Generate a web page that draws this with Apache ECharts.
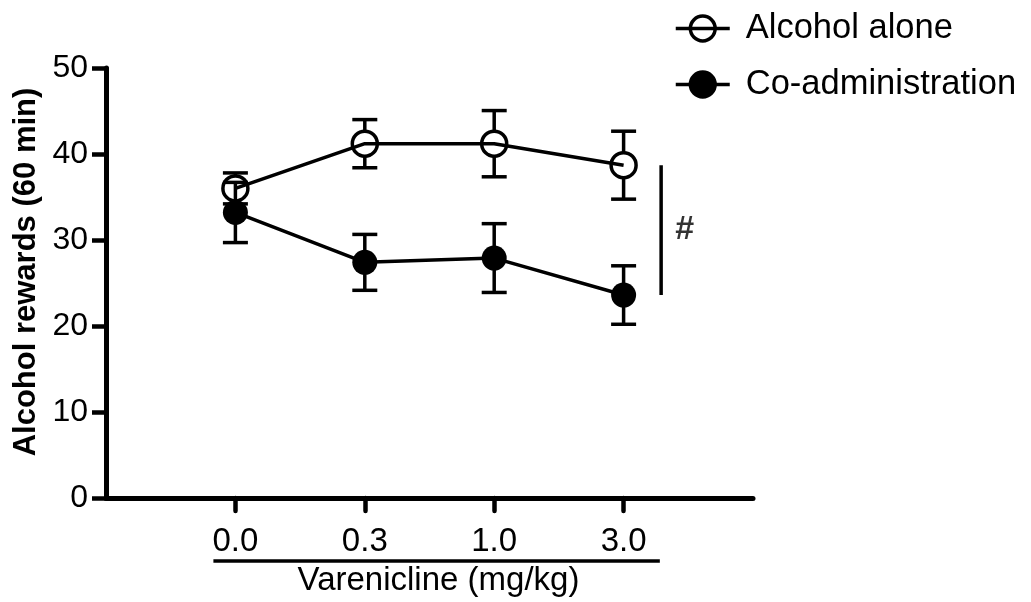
<!DOCTYPE html>
<html>
<head>
<meta charset="utf-8">
<script src="https://cdn.jsdelivr.net/npm/echarts@6/dist/echarts.min.js"></script>
<style>
html,body{margin:0;padding:0;background:#fff;}
#chart{width:1031px;height:602px;}
</style>
</head>
<body>
<div id="chart"></div>
<script>
// ---- data ----
const doses = ['0.0', '0.3', '1.0', '3.0'];
const alcoholAlone = [36.0, 41.2, 41.2, 38.7];
const alcoholAloneSem = [1.8, 2.8, 3.85, 3.95];
const coAdministration = [33.2, 27.4, 27.9, 23.6];
const coAdministrationSem = [3.5, 3.25, 4.0, 3.4];
const yTicks = [0, 10, 20, 30, 40, 50];
const seriesNames = ['Alcohol alone', 'Co-administration'];
const xAxisTitle = 'Varenicline (mg/kg)';
const yAxisTitle = 'Alcohol rewards (60 min)';
const sigLabel = '#';

const FONT = '"Liberation Sans", Arial, Helvetica, sans-serif';
const LW = 3.5;
const SYM = 25;

const toPts = arr => arr.map((v, i) => [i, v]);
const errPts = (m, s) => m.map((v, i) => [i, v, s[i]]);

function errRender(gap) {
  return function (params, api) {
    const x = api.value(0), m = api.value(1), s = api.value(2);
    const c = api.coord([x, m]);
    const top = api.coord([x, m + s]);
    const bot = api.coord([x, m - s]);
    const hw = 12.5;
    const st = { stroke: '#000', lineWidth: LW };
    return {
      type: 'group',
      children: [
        { type: 'line', shape: { x1: c[0], y1: c[1] - gap, x2: top[0], y2: top[1] }, style: st },
        { type: 'line', shape: { x1: c[0], y1: c[1] + gap, x2: bot[0], y2: bot[1] }, style: st },
        { type: 'line', shape: { x1: top[0] - hw, y1: top[1], x2: top[0] + hw, y2: top[1] }, style: st },
        { type: 'line', shape: { x1: bot[0] - hw, y1: bot[1], x2: bot[0] + hw, y2: bot[1] }, style: st }
      ]
    };
  };
}

const bracketX = 3.29;
const last = doses.length - 1;

const chart = echarts.init(document.getElementById('chart'), null, { renderer: 'canvas' });

const option = {
  animation: false,
  backgroundColor: '#fff',
  textStyle: { fontFamily: FONT, color: '#000' },
  grid: { left: 106, right: 278, top: 68, bottom: 104, containLabel: false },
  legend: {
    orient: 'vertical',
    left: 669,
    top: 6,
    itemWidth: 54,
    itemHeight: 31,
    itemGap: 21,
    data: seriesNames,
    textStyle: { fontFamily: FONT, fontSize: 34.5, color: '#000', padding: [0, 0, 0, 11] },
    lineStyle: { width: 3.5, color: '#000' },
    itemStyle: { borderWidth: 3.5, borderColor: '#000' }
  },
  xAxis: {
    type: 'value',
    min: -1, max: 4, interval: 1,
    splitLine: { show: false },
    axisLine: { show: true, onZero: false, lineStyle: { color: '#000', width: 5 } },
    axisTick: { show: true, length: 13, lineStyle: { color: '#000', width: 4.5, cap: 'round' }, customValues: [0, 1, 2, 3] },
    axisLabel: {
      customValues: [0, 1, 2, 3],
      formatter: v => doses[Math.round(v)] || '',
      fontFamily: FONT, fontSize: 33, color: '#000', margin: 27
    },
    name: xAxisTitle,
    nameLocation: 'middle',
    nameGap: 66,
    nameTextStyle: { fontFamily: FONT, fontSize: 33, color: '#000', padding: [0, 0, 0, 18] }
  },
  yAxis: {
    type: 'value',
    min: 0, max: 50, interval: 10,
    splitLine: { show: false },
    axisLine: { show: true, onZero: false, lineStyle: { color: '#000', width: 5 } },
    axisTick: { show: true, length: 14, lineStyle: { color: '#000', width: 4.5 } },
    axisLabel: {
      formatter: v => (yTicks.indexOf(v) >= 0 ? String(v) : ''),
      fontFamily: FONT, fontSize: 32, color: '#000', margin: 18
    },
    name: yAxisTitle,
    nameLocation: 'middle',
    nameGap: 64,
    nameRotate: 90,
    nameTextStyle: { fontFamily: FONT, fontSize: 31, fontWeight: 'bold', color: '#000', padding: [0, 0, 0, 22] }
  },
  series: [
    {
      name: seriesNames[0],
      type: 'line',
      data: toPts(alcoholAlone),
      symbol: 'circle',
      symbolSize: SYM,
      z: 3,
      lineStyle: { color: '#000', width: LW },
      itemStyle: { color: 'rgba(0,0,0,0)', borderColor: '#000', borderWidth: LW }
    },
    {
      name: seriesNames[1],
      type: 'line',
      data: toPts(coAdministration),
      symbol: 'circle',
      symbolSize: SYM,
      z: 3,
      lineStyle: { color: '#000', width: LW },
      itemStyle: { color: '#000', borderColor: '#000', borderWidth: 0 }
    },
    {
      type: 'custom',
      name: 'err1',
      data: errPts(alcoholAlone, alcoholAloneSem),
      renderItem: errRender(SYM / 2),
      z: 2,
      silent: true
    },
    {
      type: 'custom',
      name: 'err2',
      data: errPts(coAdministration, coAdministrationSem),
      renderItem: errRender(0),
      z: 2,
      silent: true
    },
    {
      type: 'line',
      name: 'bracket',
      data: [[bracketX, alcoholAlone[last]], [bracketX, coAdministration[last]]],
      symbol: 'none',
      lineStyle: { color: '#000', width: 3.5 },
      silent: true
    },
    {
      type: 'scatter',
      name: 'sig',
      data: [[bracketX, (alcoholAlone[last] + coAdministration[last]) / 2]],
      symbolSize: 0,
      silent: true,
      label: {
        show: true, position: 'right', distance: 14,
        formatter: sigLabel, fontFamily: FONT, fontSize: 34, fontWeight: 'bold', color: '#000'
      }
    }
  ]
};

chart.setOption(option);

// decorative underline under the dose labels
const ux1 = chart.convertToPixel({ xAxisIndex: 0 }, -0.17);
const ux2 = chart.convertToPixel({ xAxisIndex: 0 }, 3.28);
chart.setOption({
  graphic: [{
    type: 'line',
    shape: { x1: ux1, y1: 561, x2: ux2, y2: 561 },
    style: { stroke: '#000', lineWidth: 3.5 },
    silent: true
  }]
});
</script>
</body>
</html>
